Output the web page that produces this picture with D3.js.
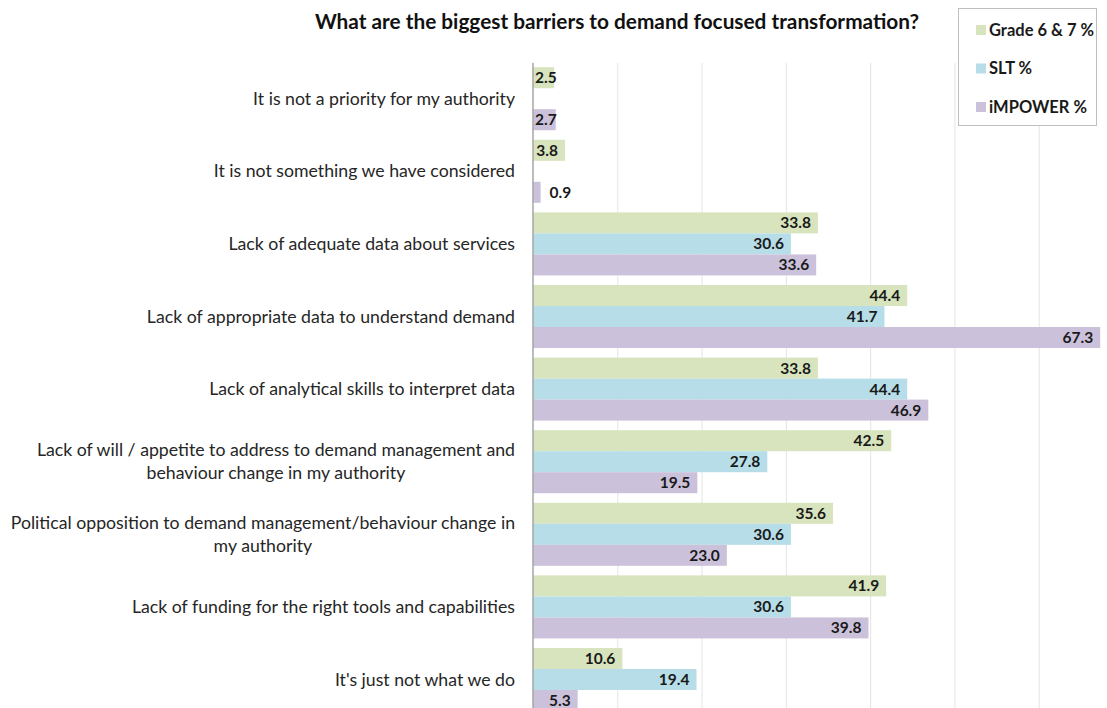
<!DOCTYPE html>
<html>
<head>
<meta charset="utf-8">
<script src="https://cdn.jsdelivr.net/npm/d3@7"></script>
<style>
  html, body { margin: 0; padding: 0; background: #fff; overflow: hidden; }
  svg { display: block; font-family: Lato, "Open Sans", sans-serif; }
</style>
</head>
<body>
<svg id="chart" width="1107" height="708"></svg>
<script>
// Survey answers: share of respondents (%) naming each barrier
const categories = [
  "It is not a priority for my authority",
  "It is not something we have considered",
  "Lack of adequate data about services",
  "Lack of appropriate data to understand demand",
  "Lack of analytical skills to interpret data",
  "Lack of will / appetite to address to demand management and\nbehaviour change in my authority",
  "Political opposition to demand management/behaviour change in\nmy authority",
  "Lack of funding for the right tools and capabilities",
  "It's just not what we do"
];
const seriesNames = ["Grade 6 & 7 %", "SLT %", "iMPOWER %"];
const gradeValues   = [2.5, 3.8, 33.8, 44.4, 33.8, 42.5, 35.6, 41.9, 10.6];
const sltValues     = [null, null, 30.6, 41.7, 44.4, 27.8, 30.6, 30.6, 19.4];
const impowerValues = [2.7, 0.9, 33.6, 67.3, 46.9, 19.5, 23.0, 39.8, 5.3];
const xTicks = [0, 10, 20, 30, 40, 50, 60, 70];
const colors = ["#d7e4bd", "#b7dee8", "#ccc1da"];
const title = "What are the biggest barriers to demand focused transformation?";

const svg = d3.select("#chart");
const seriesValues = [gradeValues, sltValues, impowerValues];

const x = d3.scaleLinear().domain([0, 70]).range([533, 1123]);
const y = d3.scaleBand().domain(categories).range([62.4, 715.8])
  .paddingInner(0.132).paddingOuter(0.066);
const ySub = d3.scaleBand().domain(seriesNames).range([0, y.bandwidth()]);

// Title
svg.append("text")
  .attr("x", 617).attr("y", 29)
  .attr("text-anchor", "middle")
  .attr("font-weight", "bold").attr("font-size", 20.8)
  .attr("fill", "#111")
  .text(title);

// Vertical gridlines
const grid = d3.axisBottom(x).tickValues(xTicks.slice(1)).tickSize(-(720 - 63)).tickFormat("");
svg.append("g")
  .attr("transform", "translate(0,720)")
  .call(grid)
  .call(g => g.select(".domain").remove())
  .call(g => g.selectAll(".tick line").attr("stroke", "#e4e4e4").attr("stroke-width", 1));

const rows = [];
categories.forEach((c, i) => {
  seriesNames.forEach((s, j) => {
    const v = seriesValues[j][i];
    if (v != null) rows.push({ c, s, j, v });
  });
});

// Bars
svg.append("g").selectAll("rect")
  .data(rows)
  .join("rect")
  .attr("x", x(0))
  .attr("y", d => y(d.c) + ySub(d.s))
  .attr("width", d => x(d.v) - x(0))
  .attr("height", ySub.bandwidth())
  .attr("fill", d => colors[d.j]);

// Value labels at the inside end of each bar
const labels = svg.append("g").selectAll("text")
  .data(rows)
  .join("text")
  .attr("y", d => y(d.c) + ySub(d.s) + ySub.bandwidth() / 2)
  .attr("dy", "0.36em")
  .attr("font-weight", "bold").attr("font-size", 15.5)
  .attr("fill", "#1a1a1a")
  .text(d => d.v.toFixed(1));

labels.each(function (d) {
  const t = d3.select(this);
  const w = this.getComputedTextLength();
  const end = x(d.v);
  if (end - x(0) < 12) {
    t.attr("x", end + 9).attr("text-anchor", "start");
  } else {
    t.attr("x", Math.max(end - 7, x(0) + w + 2)).attr("text-anchor", "end");
  }
});

// Vertical axis line
svg.append("g")
  .attr("transform", `translate(${x(0)},0)`)
  .call(d3.axisLeft(y).tickSize(0).tickFormat(""))
  .call(g => g.select(".domain").attr("stroke", "#a6a6a6").attr("stroke-width", 1.5)
    .attr("d", "M0,63V720"));

// Category labels (wrapped lines centred within a right-aligned block)
const labelRight = 515;
const lineGap = 23;
categories.forEach(c => {
  const lines = c.split("\n");
  const cy = y(c) + y.bandwidth() / 2;
  const g = svg.append("g");
  const texts = lines.map((ln, k) => g.append("text")
    .attr("y", cy + (k - (lines.length - 1) / 2) * lineGap)
    .attr("dy", "0.35em")
    .attr("font-size", 17.7)
    .attr("fill", "#262626")
    .text(ln));
  const maxW = d3.max(texts, t => t.node().getComputedTextLength());
  const centre = labelRight - maxW / 2;
  texts.forEach(t => t.attr("x", centre).attr("text-anchor", "middle"));
});

// Legend
const legend = svg.append("g");
legend.append("rect")
  .attr("x", 958.5).attr("y", 8.5).attr("width", 138).attr("height", 117)
  .attr("fill", "#fff").attr("stroke", "#bfbfbf").attr("stroke-width", 1);
const legendY = d3.scalePoint().domain(seriesNames).range([30, 107]);
seriesNames.forEach((s, j) => {
  legend.append("rect")
    .attr("x", 976).attr("y", legendY(s) - 5).attr("width", 10).attr("height", 10)
    .attr("fill", colors[j]);
  legend.append("text")
    .attr("x", 989).attr("y", legendY(s)).attr("dy", "0.36em")
    .attr("font-weight", "bold").attr("font-size", 16.5)
    .attr("fill", "#1a1a1a")
    .text(s);
});
</script>
</body>
</html>
